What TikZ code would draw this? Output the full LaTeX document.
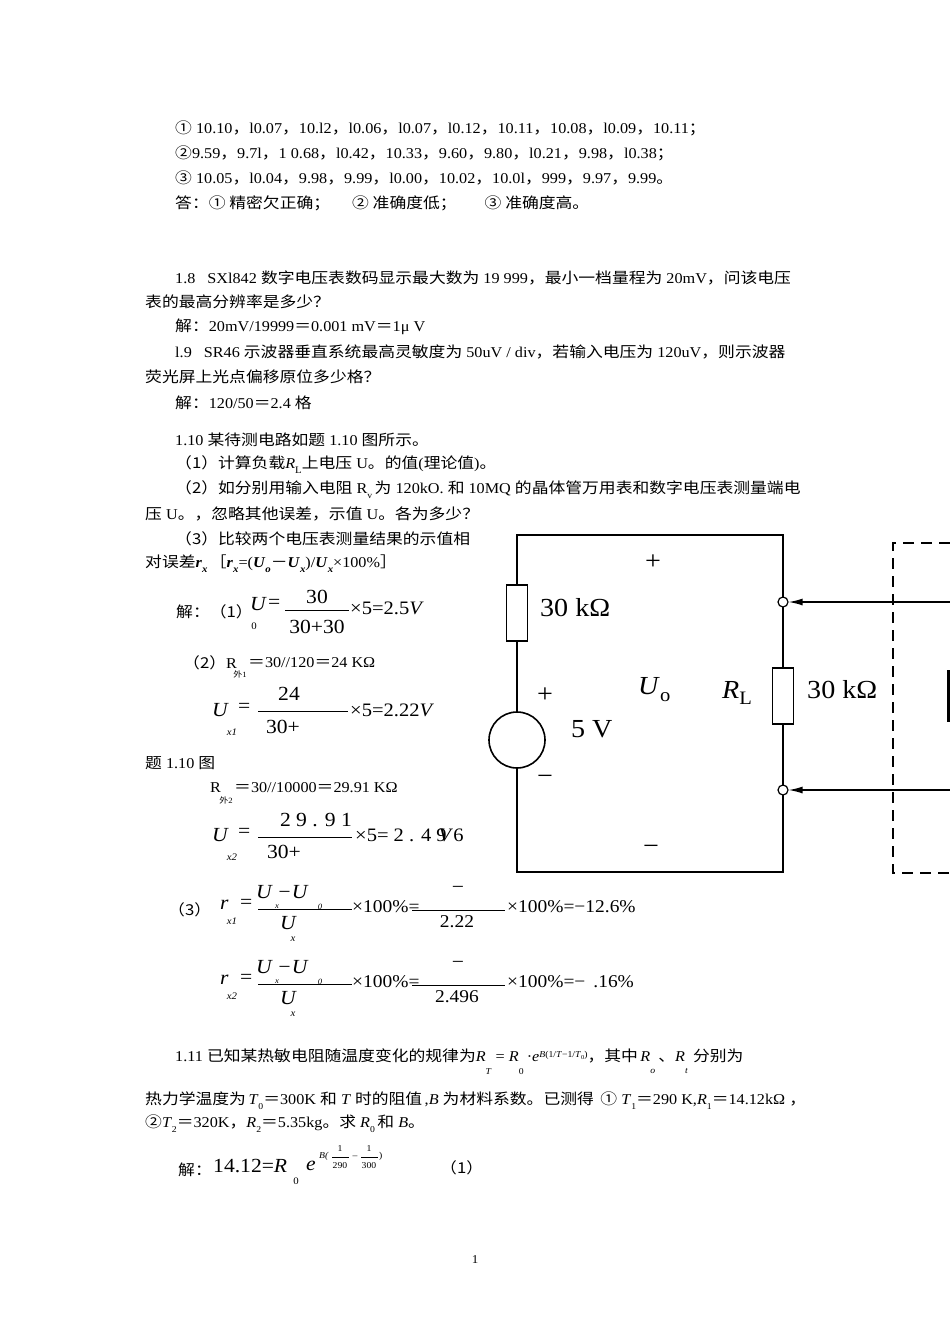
\documentclass[tikz,border=0pt]{standalone}
\usepackage{fontspec}
\setmainfont{Liberation Serif}[FakeStretch=1.08]
\newfontfamily\cjk{Noto Sans CJK SC}[FakeStretch=1.12]
\newcommand{\zh}[1]{{\cjk #1}}
\newcommand{\lsub}[2]{\rlap{\raisebox{#1}{\fontsize{9}{10}\selectfont\itshape #2}}}
\usetikzlibrary{arrows.meta}
\begin{document}
\begin{tikzpicture}[x=1pt,y=-1pt,
  t/.style={anchor=west,inner sep=0pt,font=\fontsize{15}{18}\selectfont},
  s/.style={anchor=center,inner sep=0pt,font=\fontsize{10}{12}\selectfont\itshape},
  big/.style={anchor=west,inner sep=0pt,font=\fontsize{20}{24}\selectfont\itshape},
  wire/.style={line width=1.6pt},
  fr/.style={line width=0.9pt}]
\useasboundingbox[fill=white] (0,0) rectangle (950,1344);
% ---- top lists
\node[t] (l1) at (175,128) {\zh{①} 10.10\zh{，}l0.07\zh{，}10.l2\zh{，}l0.06\zh{，}l0.07\zh{，}l0.12\zh{，}10.11\zh{，}10.08\zh{，}l0.09\zh{，}10.11\zh{；}};
\node[t] (l2) at (175,153) {\zh{②}9.59\zh{，}9.7l\zh{，}1 0.68\zh{，}l0.42\zh{，}10.33\zh{，}9.60\zh{，}9.80\zh{，}l0.21\zh{，}9.98\zh{，}l0.38\zh{；}};
\node[t] (l3) at (175,178) {\zh{③} 10.05\zh{，}l0.04\zh{，}9.98\zh{，}9.99\zh{，}l0.00\zh{，}10.02\zh{，}10.0l\zh{，}999\zh{，}9.97\zh{，}9.99\zh{。}};
\node[t] (l4) at (175,203) {\zh{答：① 精密欠正确；\hspace{22pt}② 准确度低；\hspace{28pt}③ 准确度高。}};
% ---- 1.8
\node[t] (a1) at (175,278) {1.8\hspace{12pt}SXl842 \zh{数字电压表数码显示最大数为} 19 999\zh{，最小一档量程为} 20mV\zh{，问该电压}};
\node[t] (a2) at (145,302) {\zh{表的最高分辨率是多少？}};
\node[t] (a3) at (175,327) {\zh{解：}20mV/19999\zh{＝}0.001 mV\zh{＝}1μ V};
\node[t] (a4) at (175,352) {l.9\hspace{12pt}SR46 \zh{示波器垂直系统最高灵敏度为} 50uV / div\zh{，若输入电压为} 120uV\zh{，则示波器}};
\node[t] (a5) at (145,377) {\zh{荧光屏上光点偏移原位多少格？}};
\node[t] (a6) at (175,403) {\zh{解：}120/50\zh{＝}2.4 \zh{格}};
% ---- 1.10
\node[t] (b1) at (175,440) {1.10 \zh{某待测电路如题} 1.10 \zh{图所示。}};
\node[t] (b2) at (175,465) {\zh{（1）计算负载}\textit{R}\raisebox{-5pt}{\fontsize{10}{12}\selectfont L}\zh{上电压} U\zh{。的值}(\zh{理论值})\zh{。}};
\node[t] (b3) at (175,490) {\zh{（2）如分别用输入电阻} R\raisebox{-5pt}{\fontsize{9}{10}\selectfont v}\,\zh{为} 120kO. \zh{和} 10MQ \zh{的晶体管万用表和数字电压表测量端电}};
\node[t] (b4) at (145,514) {\zh{压} U\zh{。，忽略其他误差，示值} U\zh{。各为多少？}};
\node[t] (b5) at (175,539) {\zh{（3）比较两个电压表测量结果的示值相}};
\node[t] (b6) at (145,564) {\zh{对误差}\textbf{\textit{r}}\raisebox{-5pt}{\fontsize{10}{12}\selectfont\bfseries\itshape x}\,\zh{［}\textbf{\textit{r}}\raisebox{-5pt}{\fontsize{10}{12}\selectfont\bfseries\itshape x}=(\textbf{\textit{U}}\raisebox{-5pt}{\fontsize{10}{12}\selectfont\bfseries\itshape o}\zh{－}\textbf{\textit{U}}\raisebox{-5pt}{\fontsize{10}{12}\selectfont\bfseries\itshape x})/\textbf{\textit{U}}\raisebox{-5pt}{\fontsize{10}{12}\selectfont\bfseries\itshape x}×100\%\zh{］}};
% 解(1)
\node[t] (c1) at (176,612) {\zh{解：（1）}};
\node[big] (c2) at (250,604) {U};
\node[s,font=\fontsize{10}{12}\selectfont] (c3) at (254,626) {0};
\node[t,font=\fontsize{20}{24}\selectfont] (c4) at (268,604) {=};
\node[anchor=center,inner sep=0pt,font=\fontsize{20}{24}\selectfont] (c5) at (317,597) {30};
\node[anchor=center,inner sep=0pt,font=\fontsize{20}{24}\selectfont] (c6) at (317,627) {30+30};
\draw[fr] (285,610) -- (349,610);
\node[t,font=\fontsize{19}{24}\selectfont] (c7) at (350,608) {×5=2.5\textit{V}};
% (2)
\node[t] (d1) at (183,663) {\zh{（2）}R};
\node[s,font=\fontsize{8}{9}\selectfont] (d2) at (240,674) {\zh{外}1};
\node[t] (d3) at (248,663) {\zh{＝}30//120\zh{＝}24 KΩ};
\node[big] (e1) at (212,710) {U};
\node[s] (e2) at (232,732) {x1};
\node[t,font=\fontsize{20}{24}\selectfont] (e3) at (238,708) {=};
\node[anchor=center,inner sep=0pt,font=\fontsize{20}{24}\selectfont] (e4) at (289,694) {24};
\node[anchor=center,inner sep=0pt,font=\fontsize{20}{24}\selectfont] (e5) at (283,727) {30+};
\draw[fr] (258,711) -- (348,711);
\node[t,font=\fontsize{19}{24}\selectfont] (e6) at (350,710) {×5=2.22\textit{V}};
\node[t] (f1) at (145,763) {\zh{题} 1.10 \zh{图}};
\node[t] (g1) at (210,788) {R};
\node[s,font=\fontsize{8}{9}\selectfont] (g2) at (226,800) {\zh{外}2};
\node[t] (g3) at (234,788) {\zh{＝}30//10000\zh{＝}29.91 KΩ};
\node[big] (h1) at (212,835) {U};
\node[s] (h2) at (232,857) {x2};
\node[t,font=\fontsize{20}{24}\selectfont] (h3) at (238,833) {=};
\node[anchor=center,inner sep=0pt,font=\fontsize{20}{24}\selectfont] (h4) at (316,820) {2 9 . 9 1};
\node[anchor=center,inner sep=0pt,font=\fontsize{20}{24}\selectfont] (h5) at (284,852) {30+};
\draw[fr] (258,837) -- (352,837);
\node[t,font=\fontsize{19}{24}\selectfont] (h6) at (355,835) {×5= 2 . 4 9\hspace{-8pt}\textit{V}6};
% (3)
\node[t] (i1) at (168,910) {\zh{（3）}};
\node[big] (i2) at (220,905) {r};
\node[s] (i3) at (232,921) {x1};
\node[t,font=\fontsize{20}{24}\selectfont] (i4) at (240,904) {=};
\node[big] (i5) at (256,892) {U −U};
\draw[fr] (258,909) -- (352,909);
\node[s,font=\fontsize{8}{9}\selectfont\itshape] (i6) at (277,907) {x};
\node[s,font=\fontsize{8}{9}\selectfont\itshape] (i7) at (320,907) {0};
\node[big] (i8) at (280,923) {U};
\node[s] (i9) at (293,939) {x};
\node[t,font=\fontsize{18}{22}\selectfont] (i10) at (352,907) {×100\%=};
\node[anchor=center,inner sep=0pt,font=\fontsize{20}{24}\selectfont] (i11) at (458,890) {−};
\draw[fr] (412,910) -- (505,910);
\node[anchor=center,inner sep=0pt,font=\fontsize{18}{22}\selectfont] (i12) at (457,922) {2.22};
\node[t,font=\fontsize{18}{22}\selectfont] (i13) at (507,907) {×100\%=−12.6\%};
\node[big] (j2) at (220,980) {r};
\node[s] (j3) at (232,996) {x2};
\node[t,font=\fontsize{20}{24}\selectfont] (j4) at (240,979) {=};
\node[big] (j5) at (256,967) {U −U};
\draw[fr] (258,984) -- (352,984);
\node[s,font=\fontsize{8}{9}\selectfont\itshape] (j6) at (277,982) {x};
\node[s,font=\fontsize{8}{9}\selectfont\itshape] (j7) at (320,982) {0};
\node[big] (j8) at (280,998) {U};
\node[s] (j9) at (293,1014) {x};
\node[t,font=\fontsize{18}{22}\selectfont] (j10) at (352,982) {×100\%=};
\node[anchor=center,inner sep=0pt,font=\fontsize{20}{24}\selectfont] (j11) at (458,965) {−};
\draw[fr] (412,985) -- (505,985);
\node[anchor=center,inner sep=0pt,font=\fontsize{18}{22}\selectfont] (j12) at (457,997) {2.496};
\node[t,font=\fontsize{18}{22}\selectfont] (j13) at (507,982) {×100\%=−\hspace{8pt}.16\%};
% 1.11
\node[t] (k1) at (175,1062) {1.11 \zh{已知某热敏电阻随温度变化的规律为}\textit{R}\lsub{-13pt}{T}\hspace{10pt}= \textit{R}\lsub{-13pt}{\upshape 0}\hspace{8pt}·\textit{e}\raisebox{4pt}{\fontsize{9}{10}\selectfont\itshape B}\raisebox{4pt}{\fontsize{9}{10}\selectfont(1/\textit{T}−1/\textit{T}\raisebox{-2pt}{\fontsize{6}{7}\selectfont 0})}\zh{，其中}\,\textit{R}\lsub{-12pt}{o}\hspace{8pt}\zh{、}\textit{R}\lsub{-12pt}{t}\hspace{8pt}\zh{分别为}};
\node[t] (k4) at (145,1101) {\zh{热力学温度为}\,\textit{T}\raisebox{-5pt}{\fontsize{9}{10}\selectfont 0}\zh{＝}300K \zh{和} \textit{T} \zh{时的阻值}\,,\textit{B} \zh{为材料系数。已测得}\, \zh{①} \textit{T}\raisebox{-5pt}{\fontsize{9}{10}\selectfont 1}\zh{＝}290 K,\textit{R}\raisebox{-5pt}{\fontsize{9}{10}\selectfont 1}\zh{＝}14.12kΩ \zh{，}};
\node[t] (k5) at (145,1124) {\zh{②}\textit{T}\raisebox{-5pt}{\fontsize{9}{10}\selectfont 2}\zh{＝}320K\zh{，}\textit{R}\raisebox{-5pt}{\fontsize{9}{10}\selectfont 2}\zh{＝}5.35kg\zh{。求} \textit{R}\raisebox{-5pt}{\fontsize{9}{10}\selectfont 0}\,\zh{和} \textit{B}\zh{。}};
\node[t] (m1) at (178,1170) {\zh{解：}};
\node[t,font=\fontsize{20}{24}\selectfont] (m2) at (213,1166) {14.12=\textit{R}};
\node[s,font=\fontsize{10}{12}\selectfont] (m3) at (296,1181) {0};
\node[t,font=\fontsize{20}{24}\selectfont\itshape] (me) at (306,1166) {e};
\node[t,font=\fontsize{9}{10}\selectfont\itshape] (m4) at (319,1156) {B(};
\node[anchor=center,inner sep=0pt,font=\fontsize{9}{10}\selectfont] (m5) at (340,1149) {1};
\node[anchor=center,inner sep=0pt,font=\fontsize{9}{10}\selectfont] (m6) at (340,1166) {290};
\draw[line width=0.6pt] (332,1157) -- (349,1157);
\node[anchor=center,inner sep=0pt,font=\fontsize{9}{10}\selectfont] (m7) at (355,1157) {–};
\node[anchor=center,inner sep=0pt,font=\fontsize{9}{10}\selectfont] (m8) at (369,1149) {1};
\node[anchor=center,inner sep=0pt,font=\fontsize{9}{10}\selectfont] (m9) at (369,1166) {300};
\draw[line width=0.6pt] (361,1157) -- (378,1157);
\node[t,font=\fontsize{9}{10}\selectfont] (m10) at (379,1156) {)};
\node[t] (m11) at (440,1168) {\zh{（1）}};
\node[anchor=center,font=\fontsize{12}{14}\selectfont] (pg) at (475,1260) {1};
% ---- circuit
\coordinate (tl) at (517,535); \coordinate (tr) at (783,535);
\coordinate (bl) at (517,872); \coordinate (br) at (783,872);
\draw[wire] (tl) -- (tr) -- (br) -- (bl) -- cycle;
\node[draw,wire,fill=white,minimum width=21pt,minimum height=56pt,inner sep=0pt] (R1) at (517,613) {};
\node[draw,wire,fill=white,minimum width=21pt,minimum height=56pt,inner sep=0pt] (RL) at (783,696) {};
\node[draw,wire,fill=white,circle,minimum size=56pt,inner sep=0pt] (V) at (517,740) {};
\node[draw,line width=1.2pt,fill=white,circle,minimum size=10pt,inner sep=0pt] (T1) at (783,602) {};
\node[draw,line width=1.2pt,fill=white,circle,minimum size=10pt,inner sep=0pt] (T2) at (783,790) {};
\node[anchor=west,inner sep=0pt,font=\fontsize{26}{30}\selectfont] (lR1) at (540,608) {30 kΩ};
\node[anchor=west,inner sep=0pt,font=\fontsize{26}{30}\selectfont] (lRL) at (807,690) {30 kΩ};
\node[anchor=center,inner sep=0pt,font=\fontsize{26}{30}\selectfont] (p1) at (653,562) {+};
\node[anchor=center,inner sep=0pt,font=\fontsize{26}{30}\selectfont] (p2) at (545,695) {+};
\node[anchor=center,inner sep=0pt,font=\fontsize{26}{30}\selectfont] (m1b) at (545,780) {−};
\node[anchor=center,inner sep=0pt,font=\fontsize{26}{30}\selectfont] (m2b) at (651,850) {−};
\node[anchor=west,inner sep=0pt,font=\fontsize{26}{30}\selectfont] (v5) at (571,729) {5 V};
\node[anchor=west,inner sep=0pt,font=\fontsize{26}{30}\selectfont] (Uo) at (638,690) {\textit{U}\raisebox{-7pt}{\fontsize{19}{22}\selectfont o}};
\node[anchor=west,inner sep=0pt,font=\fontsize{26}{30}\selectfont] (RLl) at (722,693) {\textit{R}\raisebox{-6pt}{\fontsize{19}{22}\selectfont L}};
\coordinate (a1s) at (950,602); \coordinate (a2s) at (950,790);
\draw[line width=1.4pt,-{Latex[length=14pt,width=7pt]}] (a1s) -- (T1.east);
\draw[line width=1.4pt,-{Latex[length=14pt,width=7pt]}] (a2s) -- (T2.east);
\draw[line width=1.8pt,dash pattern=on 11pt off 7pt] (950,543) -- (893,543) -- (893,873) -- (950,873);
\draw[line width=3pt] (948,670) -- (948,722);
\end{tikzpicture}
\end{document}
